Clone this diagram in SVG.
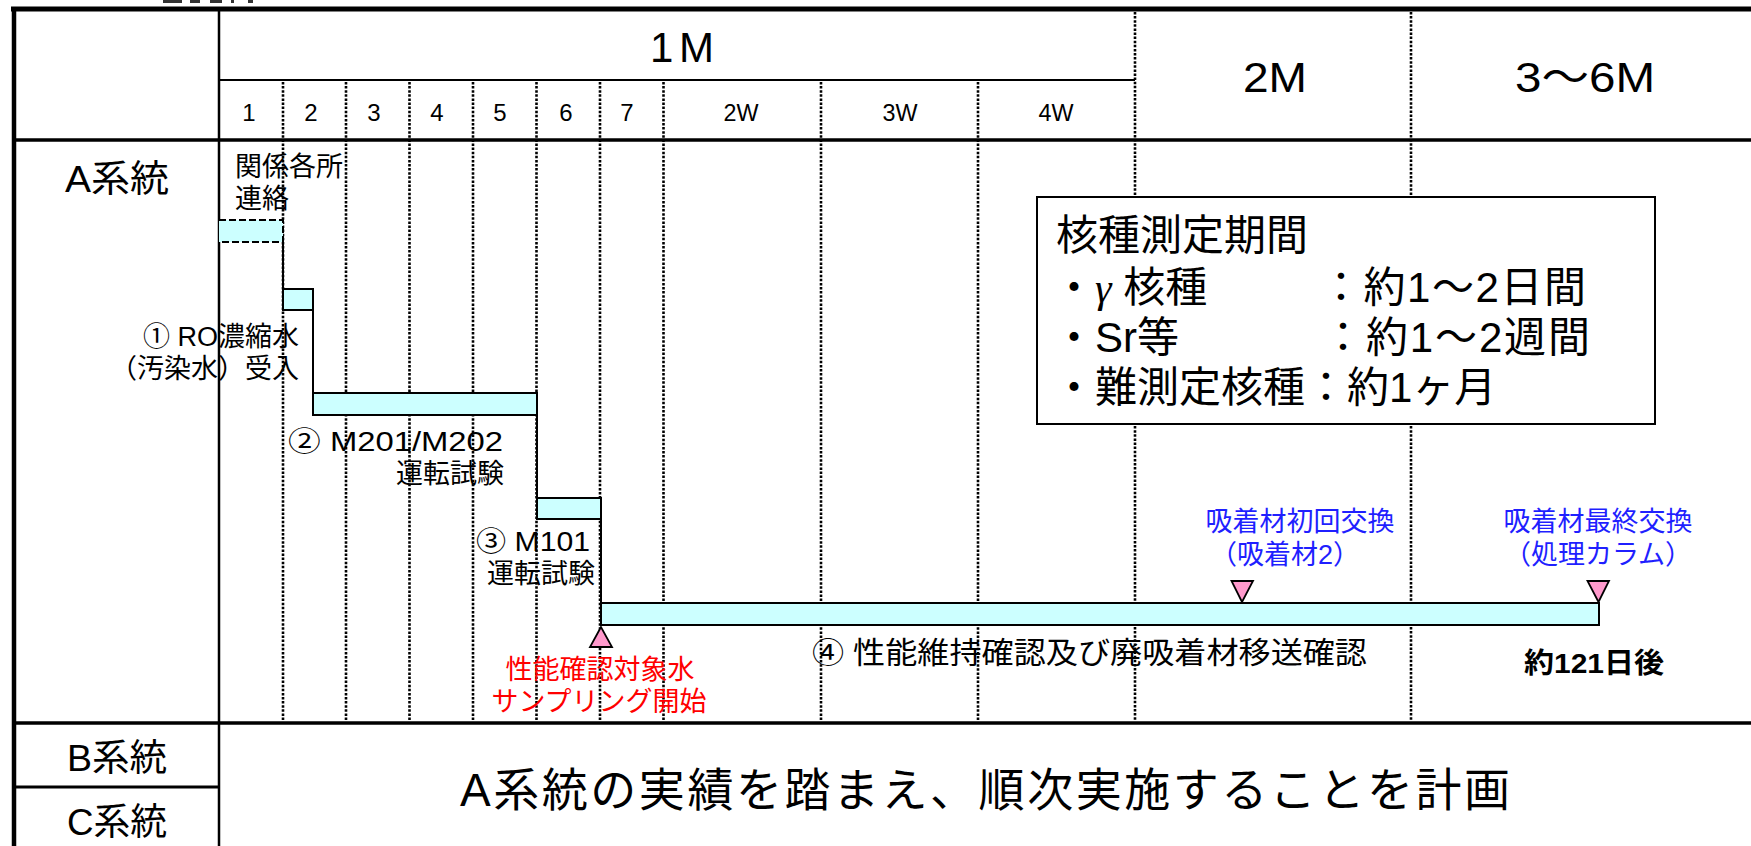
<svg xmlns="http://www.w3.org/2000/svg" width="1751" height="846" viewBox="0 0 1751 846">
<style>
text { font-family: "Liberation Sans", "Noto Sans CJK JP", sans-serif; fill: #000; }
.jp { font-family: "Noto Sans CJK JP", "Liberation Sans", sans-serif; }
.dot { stroke: #000; stroke-width: 2.6; stroke-dasharray: 2.5 1.6; fill: none; }
.bar { fill: #CCFFFF; stroke: #000; stroke-width: 2; }
.tri { fill: #FF99CC; stroke: #000; stroke-width: 1.8; stroke-linejoin: miter; }
.conn { stroke: #000; stroke-width: 2; fill: none; }
.lbl { font-size: 27px; }
.blue { fill: #1f1fff; font-size: 27px; }
.red { fill: #ff0000; font-size: 27px; }
.hd { font-size: 42px; }
.day { font-size: 24px; }
.wk { font-size: 23px; }
.sys { font-size: 37px; }
.box { font-size: 42px; }
.gam { font-family: "Liberation Serif", serif; font-style: italic; }
</style>

<g id="title-fragment" fill="#333">
  <rect x="163" y="0" width="19" height="3"/>
  <rect x="190" y="0" width="10" height="3"/>
  <rect x="210" y="0" width="12" height="3"/>
  <rect x="231" y="0" width="3" height="3"/>
  <rect x="248" y="0" width="5" height="3"/>
</g>

<g id="grid">
  <line x1="11" y1="9" x2="1751" y2="9" stroke="#000" stroke-width="5"/>
  <line x1="14" y1="7" x2="14" y2="846" stroke="#000" stroke-width="4.5"/>
  <line x1="219" y1="9" x2="219" y2="846" stroke="#000" stroke-width="2.5"/>
  <line x1="219" y1="80" x2="1135" y2="80" stroke="#000" stroke-width="2.2"/>
  <line x1="12" y1="140" x2="1751" y2="140" stroke="#000" stroke-width="3.5"/>
  <line x1="12" y1="723" x2="1751" y2="723" stroke="#000" stroke-width="3.5"/>
  <line x1="14" y1="787" x2="219" y2="787" stroke="#000" stroke-width="3"/>
  <g class="dot">
    <line x1="283" y1="82" x2="283" y2="721"/>
    <line x1="346" y1="82" x2="346" y2="721"/>
    <line x1="409.5" y1="82" x2="409.5" y2="721"/>
    <line x1="473" y1="82" x2="473" y2="721"/>
    <line x1="536.5" y1="82" x2="536.5" y2="721"/>
    <line x1="600" y1="82" x2="600" y2="721"/>
    <line x1="663.5" y1="82" x2="663.5" y2="721"/>
    <line x1="821" y1="82" x2="821" y2="721"/>
    <line x1="978" y1="82" x2="978" y2="721"/>
    <line x1="1135" y1="12" x2="1135" y2="721"/>
    <line x1="1411" y1="12" x2="1411" y2="721"/>
  </g>
</g>

<g id="header">
  <text class="hd" x="650" y="62" font-size="40">1</text>
  <text class="hd" x="679" y="62" font-size="40">M</text>
  <text class="hd" x="1275" y="92" text-anchor="middle" textLength="64" lengthAdjust="spacingAndGlyphs">2M</text>
  <text class="hd" x="1585" y="92" text-anchor="middle" textLength="140" lengthAdjust="spacingAndGlyphs">3～6M</text>
  <text class="day" x="249" y="121" text-anchor="middle">1</text>
  <text class="day" x="311" y="121" text-anchor="middle">2</text>
  <text class="day" x="374" y="121" text-anchor="middle">3</text>
  <text class="day" x="437" y="121" text-anchor="middle">4</text>
  <text class="day" x="500" y="121" text-anchor="middle">5</text>
  <text class="day" x="566" y="121" text-anchor="middle">6</text>
  <text class="day" x="627" y="121" text-anchor="middle">7</text>
  <text class="wk" x="741" y="121" text-anchor="middle" textLength="35" lengthAdjust="spacingAndGlyphs">2W</text>
  <text class="wk" x="900" y="121" text-anchor="middle" textLength="35" lengthAdjust="spacingAndGlyphs">3W</text>
  <text class="wk" x="1056" y="121" text-anchor="middle" textLength="35" lengthAdjust="spacingAndGlyphs">4W</text>
</g>

<g id="row-labels">
  <text class="sys" x="117" y="192" text-anchor="middle" textLength="104" lengthAdjust="spacingAndGlyphs">A系統</text>
  <text class="sys" x="117" y="771" text-anchor="middle" textLength="100" lengthAdjust="spacingAndGlyphs">B系統</text>
  <text class="sys" x="117" y="835" text-anchor="middle" textLength="100" lengthAdjust="spacingAndGlyphs">C系統</text>
</g>

<g id="connectors">
  <path class="conn" d="M283,242 V289"/>
  <path class="conn" d="M313,310 V393"/>
  <path class="conn" d="M537,415 V498"/>
  <path class="conn" d="M601,519 V603"/>
</g>

<g id="task0">
  <rect x="219" y="220" width="64" height="22" fill="#CCFFFF"/>
  <path d="M219,220 H283 V242 H219" fill="none" stroke="#000" stroke-width="2" stroke-dasharray="7 3"/>
  <text class="lbl" x="235" y="176">関係各所</text>
  <text class="lbl" x="235" y="208">連絡</text>
</g>

<g id="task1">
  <rect class="bar" x="283" y="289" width="30" height="21"/>
  <text class="lbl" x="299" y="346" text-anchor="end">① RO濃縮水</text>
  <text class="lbl" x="299" y="378" text-anchor="end">（汚染水）受入</text>
</g>

<g id="task2">
  <rect class="bar" x="313" y="393" width="224" height="22"/>
  <text class="lbl" x="288" y="451" textLength="215" lengthAdjust="spacingAndGlyphs">② M201/M202</text>
  <text class="lbl" x="504" y="483" text-anchor="end">運転試験</text>
</g>

<g id="task3">
  <rect class="bar" x="537" y="498" width="64" height="21"/>
  <text class="lbl" x="476" y="551" textLength="114" lengthAdjust="spacingAndGlyphs">③ M101</text>
  <text class="lbl" x="595" y="583" text-anchor="end">運転試験</text>
</g>

<g id="task4">
  <rect class="bar" x="601" y="603" width="998" height="22"/>
  <text x="812" y="663" font-size="30" textLength="555" lengthAdjust="spacingAndGlyphs">④ 性能維持確認及び廃吸着材移送確認</text>
  <text x="1594" y="673" font-size="28" font-weight="bold" text-anchor="middle" textLength="140" lengthAdjust="spacingAndGlyphs">約121日後</text>
</g>

<g id="milestone-sampling">
  <polygon class="tri" points="601,627 590,647 612,647"/>
  <text class="red" x="600" y="679" text-anchor="middle">性能確認対象水</text>
  <text class="red" x="599" y="711" text-anchor="middle">サンプリング開始</text>
</g>

<g id="milestone-first-exchange">
  <polygon class="tri" points="1231.5,581 1253,581 1242,602"/>
  <text class="blue" x="1300" y="531" text-anchor="middle">吸着材初回交換</text>
  <text class="blue" x="1285" y="564" text-anchor="middle">（吸着材2）</text>
</g>

<g id="milestone-final-exchange">
  <polygon class="tri" points="1587.5,581 1609,581 1598.5,602"/>
  <text class="blue" x="1598" y="531" text-anchor="middle">吸着材最終交換</text>
  <text class="blue" x="1598" y="564" text-anchor="middle">（処理カラム）</text>
</g>

<g id="measurement-box">
  <rect x="1037" y="197" width="618" height="227" fill="#fff" stroke="#000" stroke-width="2"/>
  <text class="box" x="1056" y="250">核種測定期間</text>
  <text class="box" x="1053" y="302">・<tspan class="gam">γ</tspan> 核種</text>
  <text class="box" x="1320" y="302" textLength="266" lengthAdjust="spacing">：約1～2日間</text>
  <text class="box" x="1053" y="352">・Sr等</text>
  <text class="box" x="1322" y="352" textLength="268" lengthAdjust="spacing">：約1～2週間</text>
  <text class="box" x="1053" y="402">・難測定核種：約1ヶ月</text>
</g>

<g id="bc-plan">
  <text x="985" y="806" font-size="46" text-anchor="middle" textLength="1050" lengthAdjust="spacing">A系統の実績を踏まえ、順次実施することを計画</text>
</g>
</svg>
